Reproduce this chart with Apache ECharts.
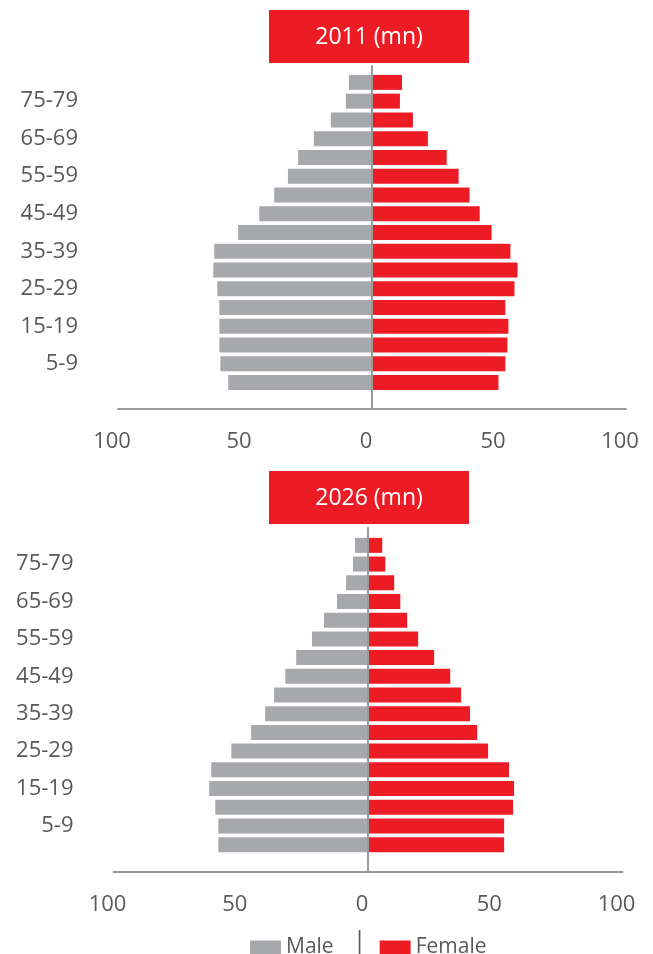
<!DOCTYPE html>
<html>
<head>
<meta charset="utf-8">
<title>Population pyramids 2011 and 2026</title>
<script src="https://cdn.jsdelivr.net/npm/echarts@6/dist/echarts.min.js"></script>
<style>
  html, body { margin: 0; padding: 0; background: #ffffff; }
  #chart { width: 653px; height: 954px; }
</style>
</head>
<body>
<div id="chart"></div>
<script>
// Age groups, youngest first (the category axis runs bottom to top)
const ageGroups = ['0-4', '5-9', '10-14', '15-19', '20-24', '25-29', '30-34', '35-39',
  '40-44', '45-49', '50-54', '55-59', '60-64', '65-69', '70-74', '75-79', '80+'];

// Population in millions
const male2011 = [56.6, 59.7, 60.1, 60.1, 60.1, 60.9, 62.5, 62.1, 52.7, 44.4, 38.5, 33.1, 29.1, 22.9, 16.2, 10.3, 9.1];
const female2011 = [49.8, 52.5, 53.3, 53.7, 52.5, 56.1, 57.3, 54.5, 47.1, 42.4, 38.4, 34.1, 29.4, 22.0, 16.1, 11.0, 11.8];
const male2026 = [58.8, 58.8, 60.0, 62.4, 61.6, 53.7, 45.9, 40.4, 36.9, 32.5, 28.2, 22.0, 17.3, 12.2, 8.6, 5.9, 5.1];
const female2026 = [53.5, 53.5, 57.0, 57.4, 55.4, 47.2, 42.9, 40.1, 36.6, 32.3, 26.0, 19.7, 15.4, 12.7, 10.3, 6.8, 5.6];

const valueTicks = [-100, -50, 0, 50, 100];
const panelTitles = ['2011 (mn)', '2026 (mn)'];

const GREY = '#a7a8ab';
const RED = '#ed1c24';
const TEXT = '#595959';
const LINE = '#9a9a9a';
const FONT = '"Open Sans", "Noto Sans", sans-serif';

const chart = echarts.init(document.getElementById('chart'), null, { renderer: 'canvas' });

// Each panel: one grid for the bars, one slightly taller grid carrying the zero line and value axis
const panels = [
  { bars: { left: 118, right: 27, top: 73, height: 319 }, frame: { left: 118, right: 27, top: 66, height: 343 }, male: male2011, female: female2011 },
  { bars: { left: 113.5, right: 30.5, top: 536, height: 318 }, frame: { left: 113.5, right: 30.5, top: 528, height: 344 }, male: male2026, female: female2026 }
];

const grid = [], xAxis = [], yAxis = [], series = [];
panels.forEach((p) => {
  const gBar = grid.length;
  grid.push(p.bars);
  const gFrame = grid.length;
  grid.push(p.frame);

  // value axis of the bar grid (hidden)
  xAxis.push({ gridIndex: gBar, type: 'value', min: valueTicks[0], max: valueTicks[valueTicks.length - 1], interval: 50, show: false });
  // value axis of the frame grid (visible line + labels)
  xAxis.push({
    gridIndex: gFrame, type: 'value', min: valueTicks[0], max: valueTicks[valueTicks.length - 1], interval: 50,
    axisLine: { show: true, onZero: false, lineStyle: { color: LINE, width: 2 } },
    axisTick: { show: false },
    splitLine: { show: false },
    axisLabel: {
      color: TEXT, fontFamily: FONT, fontSize: 22, margin: 22, padding: [0, 12, 0, 0],
      formatter: v => String(Math.abs(v))
    }
  });

  // category axis of the bar grid (age labels)
  yAxis.push({
    gridIndex: gBar, type: 'category', data: ageGroups,
    axisLine: { show: false }, axisTick: { show: false },
    axisLabel: {
      color: TEXT, fontFamily: FONT, fontSize: 22, margin: 40, padding: [4, 0, 0, 0],
      interval: idx => idx % 2 === 1
    }
  });
  // vertical zero line of the frame grid
  yAxis.push({
    gridIndex: gFrame, type: 'value', min: 0, max: 1, z: 10,
    axisLine: { show: true, onZero: true, lineStyle: { color: LINE, width: 2 } },
    axisTick: { show: false }, axisLabel: { show: false }, splitLine: { show: false }
  });

  series.push({
    name: 'Male', type: 'bar', xAxisIndex: gBar, yAxisIndex: gBar,
    data: p.male.map(v => -v), barWidth: 15, barGap: '-100%',
    itemStyle: { color: GREY }, silent: true
  });
  series.push({
    name: 'Female', type: 'bar', xAxisIndex: gBar, yAxisIndex: gBar,
    data: p.female, barWidth: 15, barGap: '-100%',
    itemStyle: { color: RED }, silent: true
  });
});

// Red title boxes above each pyramid
const titleBox = (text, top) => ({
  type: 'group', left: 269, top: top,
  children: [
    { type: 'rect', shape: { x: 0, y: 0, width: 200, height: 53 }, style: { fill: RED } },
    { type: 'text', style: { text: text, x: 100, y: 27, align: 'center', verticalAlign: 'middle',
      fill: '#ffffff', font: '23px ' + FONT } }
  ]
});

chart.setOption({
  animation: false,
  backgroundColor: '#ffffff',
  grid: grid,
  xAxis: xAxis,
  yAxis: yAxis,
  series: series,
  legend: {
    data: ['Male', 'Female'],
    left: 245, top: 932,
    icon: 'rect', itemWidth: 31, itemHeight: 14, itemGap: 46,
    textStyle: { color: TEXT, fontFamily: FONT, fontSize: 21 },
    selectedMode: false
  },
  graphic: [
    titleBox(panelTitles[0], 10),
    titleBox(panelTitles[1], 471),
    { type: 'text', left: 353, top: 929, style: { text: '|', fill: TEXT, font: '24px ' + FONT } }
  ]
});
</script>
</body>
</html>
